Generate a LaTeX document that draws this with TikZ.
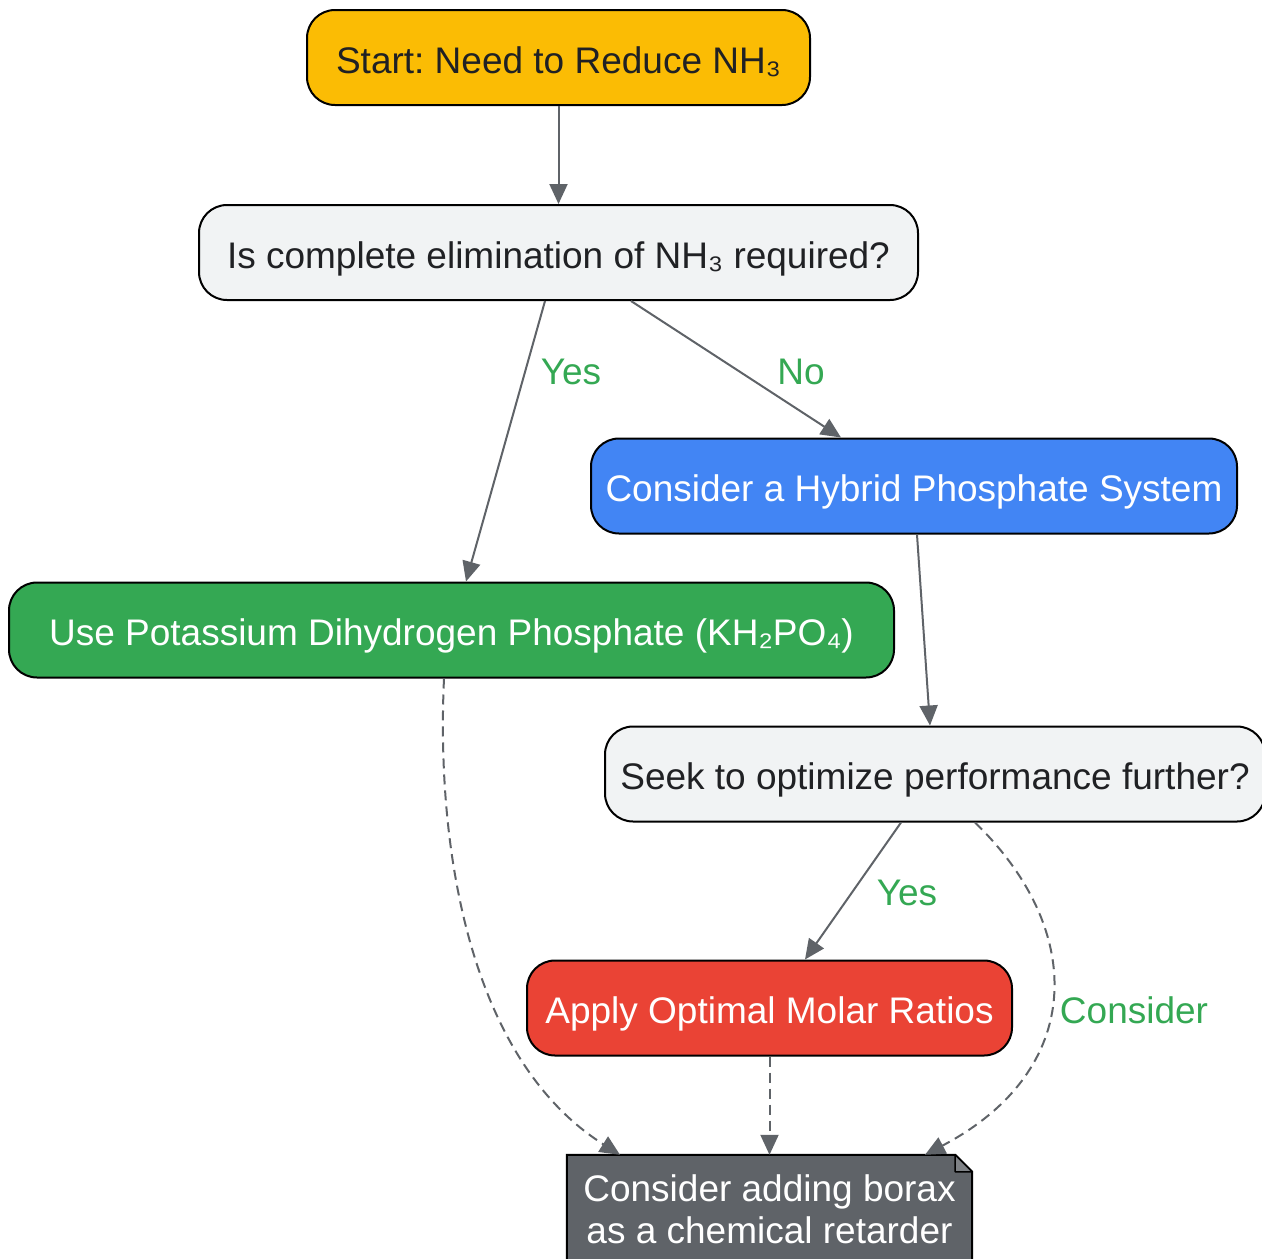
\documentclass[tikz,border=0pt]{standalone}
\usepackage{fontspec}
\setmainfont{Liberation Sans}
\frenchspacing
\usetikzlibrary{arrows.meta,backgrounds}
\definecolor{cstart}{HTML}{FBBC04}
\definecolor{cq}{HTML}{F1F3F4}
\definecolor{cblue}{HTML}{4285F4}
\definecolor{cgreen}{HTML}{34A853}
\definecolor{cred}{HTML}{EA4335}
\definecolor{cgray}{HTML}{5F6368}
\definecolor{ctext}{HTML}{202124}
\tikzset{
  box/.style={draw=black, line width=2pt, rounded corners=28pt, inner sep=0pt,
    minimum height=95pt, text height=37pt, text depth=6pt,
    font=\fontsize{37}{42}\selectfont\frenchspacing, align=center},
  lbl/.style={text=cgreen, inner sep=0pt, font=\fontsize{37}{42}\selectfont},
  edge/.style={draw=cgray, line width=2pt, -{Triangle[length=20pt,width=18pt]}},
  dedge/.style={edge, dash pattern=on 10pt off 6pt}
}
\begin{document}
\begin{tikzpicture}[x=1pt,y=-1pt]
\useasboundingbox (0,0) rectangle (1262,1259);
\node[box, fill=cstart, text=ctext, minimum width=503pt] (start) at (558.5,57.5) {Start: Need to Reduce NH₃};
\node[box, fill=cq, text=ctext, minimum width=719pt] (q1) at (558.5,252.5) {Is complete elimination of NH₃ required?};
\node[box, fill=cblue, text=white, minimum width=646pt] (hy) at (914,486) {Consider a Hybrid Phosphate System};
\node[box, fill=cgreen, text=white, minimum width=885pt] (kh) at (451.5,630) {Use Potassium Dihydrogen Phosphate (KH₂PO₄)};
\node[box, fill=cq, text=ctext, minimum width=660pt] (seek) at (935,774) {Seek to optimize performance further?};
\node[box, fill=cred, text=white, minimum width=485pt] (ap) at (769.5,1008) {Apply Optimal Molar Ratios};
\node[inner sep=0pt, minimum width=405pt, minimum height=108pt, text=white,
  font=\fontsize{37}{42}\selectfont, align=center] (note) at (769.5,1209) {Consider adding borax\\as a chemical retarder};
\begin{scope}[on background layer]
\fill[cgray, draw=black, line width=2pt] (note.north west) -- ([xshift=-17pt]note.north east) -- ([yshift=-17pt]note.north east) -- (note.south east) -- (note.south west) -- cycle;
\draw[fill=cgray!80!white, line width=1.5pt, line join=round] ([xshift=-17pt]note.north east) -- ([xshift=-17pt,yshift=-17pt]note.north east) -- ([yshift=-17pt]note.north east) -- cycle;
\end{scope}
\draw[edge] (start.south) -- (q1.north);
\draw[edge] ([xshift=-13.5pt]q1.south) -- ([xshift=14.5pt]kh.north);
\draw[edge] ([xshift=72.5pt]q1.south) -- ([xshift=-73pt]hy.north);
\draw[edge] ([xshift=3pt]hy.south) -- ([xshift=-5pt]seek.north);
\draw[edge] ([xshift=-34pt]seek.south) -- ([xshift=35.5pt]ap.north);
\draw[dedge] ([xshift=40pt]seek.south) .. controls (1086,930) and (1086,1070) .. ([xshift=155.5pt]note.north);
\draw[dedge] ([xshift=-7.5pt]kh.south) .. controls (436,850) and (470,1060) .. ([xshift=-149.5pt]note.north);
\draw[dedge] (ap.south) -- (note.north);
\node[lbl] (l1) at (571,372) {Yes};
\node[lbl] (l2) at (801,372) {No};
\node[lbl] (l3) at (907,893) {Yes};
\node[lbl] (l4) at (1134,1010) {Consider};
\end{tikzpicture}
\end{document}
